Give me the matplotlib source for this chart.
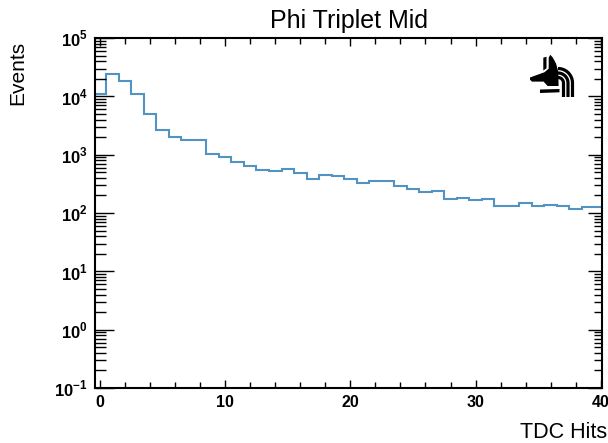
import matplotlib

matplotlib.use("Agg")
import matplotlib.pyplot as plt
from matplotlib.ticker import MultipleLocator, LogLocator, FuncFormatter, NullFormatter
from matplotlib.patches import Polygon
import numpy as np

# ==========================================
# Data
# ==========================================
tdc_hits = list(range(41))  # bin centres, width 1
events = [
    1.1e4, 2.4e4, 1.8e4, 1.1e4, 5.0e3, 2.6e3, 2.0e3, 1.8e3, 1.75e3, 1.02e3,
    920, 760, 640, 550, 525, 565, 490, 380, 450, 430,
    380, 325, 350, 350, 290, 255, 225, 240, 175, 183,
    165, 173, 130, 130, 148, 130, 138, 130, 118, 125,
    125,
]

TITLE = "Phi Triplet Mid"
XLABEL = "TDC Hits"
YLABEL = "Events"
LINE_COLOR = "#5393c2"

plt.rcParams["font.family"] = ["Liberation Sans", "DejaVu Sans"]
plt.rcParams["mathtext.fontset"] = "custom"
plt.rcParams["mathtext.rm"] = "Liberation Sans"
plt.rcParams["mathtext.bf"] = "Liberation Sans:bold"

W, H = 608, 443
fig = plt.figure(figsize=(W / 100, H / 100), dpi=100, facecolor="white")

# axes frame in pixels: left 95, right 602, top 38, bottom 388
ax = fig.add_axes([95 / W, 1 - 388 / H, (602 - 95) / W, (388 - 38) / H])

edges = np.array(tdc_hits + [tdc_hits[-1] + 1], dtype=float) - 0.5
ax.stairs(events, edges, baseline=None, color=LINE_COLOR, linewidth=1.5)

ax.set_yscale("log")
ax.set_ylim(0.1, 1e5)
ax.set_xlim(-0.4, 40.1)

ax.xaxis.set_major_locator(MultipleLocator(10))
ax.xaxis.set_minor_locator(MultipleLocator(2))
ax.yaxis.set_major_locator(LogLocator(base=10, numticks=10))
ax.yaxis.set_minor_locator(LogLocator(base=10, subs=np.arange(2, 10), numticks=20))
ax.yaxis.set_minor_formatter(NullFormatter())


def decade(v, pos):
    e = int(round(np.log10(v)))
    return r"$\mathbf{10}^{\mathbf{%d}}$" % e


ax.yaxis.set_major_formatter(FuncFormatter(decade))

for sp in ax.spines.values():
    sp.set_linewidth(1.5)

ax.tick_params(axis="x", which="both", direction="in", top=True, width=1.0,
               labelsize=11.5, pad=5)
ax.tick_params(axis="x", which="major", length=6)
ax.tick_params(axis="x", which="minor", length=4)
ax.tick_params(axis="y", which="both", direction="in", right=False, width=1.0,
               labelsize=12, pad=5)
ax.tick_params(axis="y", which="major", length=14)
ax.tick_params(axis="y", which="minor", length=8)
for lab in ax.get_xticklabels():
    lab.set_fontweight("bold")

# right-hand ticks are shorter in the reference
axr = ax.twinx()
axr.set_yscale("log")
axr.set_ylim(ax.get_ylim())
axr.yaxis.set_major_locator(LogLocator(base=10, numticks=10))
axr.yaxis.set_minor_locator(LogLocator(base=10, subs=np.arange(2, 10), numticks=20))
axr.yaxis.set_major_formatter(NullFormatter())
axr.yaxis.set_minor_formatter(NullFormatter())
axr.tick_params(axis="y", which="both", direction="in", width=1.0)
axr.tick_params(axis="y", which="major", length=10)
axr.tick_params(axis="y", which="minor", length=6)
for sp in axr.spines.values():
    sp.set_visible(False)

ax.set_title(TITLE, fontsize=18, pad=7)
fig.text(18 / W, 1 - 41 / H, YLABEL, rotation=90, ha="center", va="top", fontsize=15)
fig.text(607 / W, 1 - 438 / H, XLABEL, ha="right", va="baseline", fontsize=15.5)

# logo (jackal head with signal arcs), drawn in pixel space
lg = fig.add_axes([0, 0, 1, 1], zorder=5)
lg.set_xlim(0, W)
lg.set_ylim(H, 0)
lg.axis("off")
lg.patch.set_alpha(0)

cx, cy = 558, 83
for r in (5.5, 10, 14.5):
    t = np.linspace(0, np.pi / 2, 30)
    xs = list(cx + r * np.sin(t)) + [cx + r]
    ys = list(cy - r * np.cos(t)) + [97]
    lg.plot(xs, ys, color="black", linewidth=2.3, solid_capstyle="butt")

head = [(550, 53.5), (553.3, 57), (556.7, 63.3), (559, 71.7), (559.3, 86.7),
        (547.3, 86.7), (543.3, 82.3), (531.7, 82.3), (529.3, 80), (529.3, 77),
        (536.7, 74.3), (544, 71.7), (548, 68.3), (548, 57.7)]
lg.add_patch(Polygon(head, closed=True, facecolor="black", edgecolor="white", linewidth=1.0))
ear = [(543.3, 57.7), (546.5, 56.7), (546.5, 68.3), (543.3, 70.5)]
lg.add_patch(Polygon(ear, closed=True, facecolor="black", edgecolor="none"))
collar = [(540, 89.5), (559.5, 89), (559.5, 92.3), (540, 93)]
lg.add_patch(Polygon(collar, closed=True, facecolor="black", edgecolor="none"))

fig.savefig("out.png", dpi=100)
